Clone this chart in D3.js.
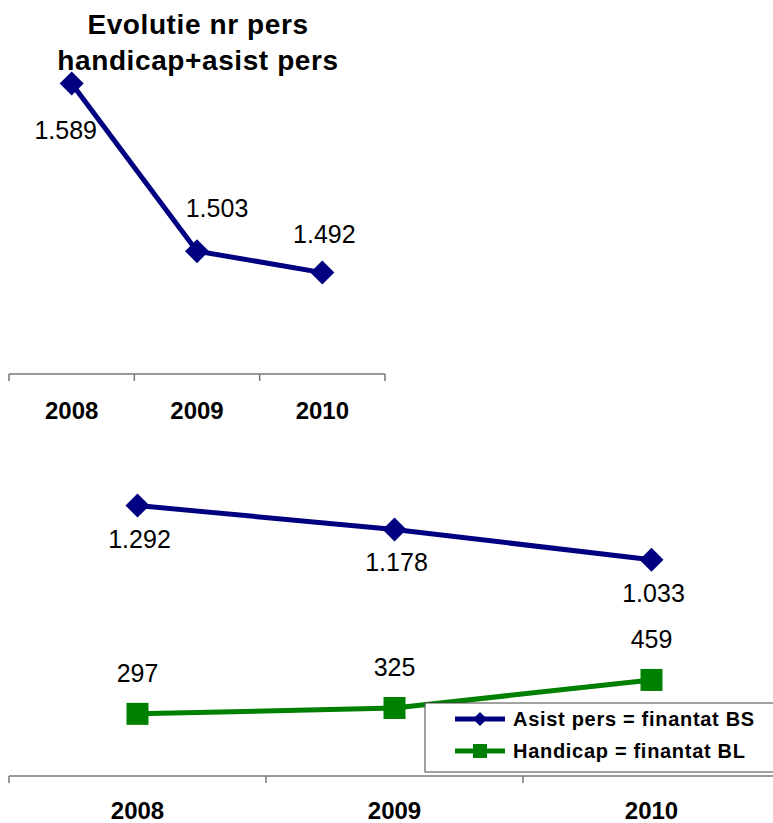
<!DOCTYPE html>
<html>
<head>
<meta charset="utf-8">
<script src="https://cdn.jsdelivr.net/npm/d3@7"></script>
<style>
  body { margin: 0; background: #fff; }
  text { font-family: Arial, "Liberation Sans", sans-serif; }
</style>
</head>
<body>
<div id="chart"></div>
<script>
// data
const years = ["2008", "2009", "2010"];
const totalPers = [1589, 1503, 1492];
const asistPers = [1292, 1178, 1033];
const handicap = [297, 325, 459];
const seriesNames = ["Asist pers = finantat BS", "Handicap = finantat BL"];
const titleLines = ["Evolutie nr pers", "handicap+asist pers"];

const fmt = v => d3.format(",")(v).replace(/,/g, ".");

const svg = d3.select("#chart").append("svg")
    .attr("width", 773).attr("height", 823);

const navy = "#000080", green = "#008000";

// draws a band axis with ticks at the band edges
function bandAxis(x, y0, labelY) {
    const g = svg.append("g");
    const [r0, r1] = x.range();
    g.append("line").attr("x1", r0).attr("x2", r1)
        .attr("y1", y0).attr("y2", y0)
        .attr("stroke", "#777").attr("stroke-width", 1.5);
    const edges = x.domain().map(d => x(d)).concat([r1]);
    g.selectAll(".tk").data(edges).enter().append("line")
        .attr("x1", d => d).attr("x2", d => d)
        .attr("y1", y0).attr("y2", y0 + 7)
        .attr("stroke", "#777").attr("stroke-width", 1.5);
    g.selectAll(".lb").data(x.domain()).enter().append("text")
        .attr("x", d => x(d) + x.bandwidth() / 2)
        .attr("y", labelY)
        .attr("text-anchor", "middle")
        .style("font-size", "24px").style("font-weight", "bold")
        .text(d => d);
}

function diamond(g, cx, cy, r, color) {
    g.append("path")
        .attr("d", `M${cx},${cy - r}L${cx + r},${cy}L${cx},${cy + r}L${cx - r},${cy}Z`)
        .attr("fill", color);
}

// ---- top chart ----
const x1 = d3.scaleBand().domain(years).range([9, 385]);
const y1 = d3.scaleLinear().domain([1440, 1600]).range([374, 62]);

svg.selectAll(".title").data(titleLines).enter().append("text")
    .attr("x", 198).attr("y", (d, i) => 34 + i * 36)
    .attr("text-anchor", "middle")
    .style("font-size", "28px").style("font-weight", "bold")
    .style("letter-spacing", "0.6px")
    .text(d => d);

bandAxis(x1, 374, 419);

const topG = svg.append("g");
const cx1 = d => x1(d) + x1.bandwidth() / 2;
topG.append("path")
    .datum(years)
    .attr("fill", "none").attr("stroke", navy).attr("stroke-width", 5)
    .attr("d", d3.line().x(d => cx1(d)).y((d, i) => y1(totalPers[i])));
years.forEach((d, i) => diamond(topG, cx1(d), y1(totalPers[i]), 12, navy));

const topLabelOff = [[-6, 56], [20, -34], [2, -30]];
topG.selectAll(".val").data(years).enter().append("text")
    .attr("x", (d, i) => cx1(d) + topLabelOff[i][0])
    .attr("y", (d, i) => y1(totalPers[i]) + topLabelOff[i][1])
    .attr("text-anchor", "middle")
    .style("font-size", "25px")
    .text((d, i) => fmt(totalPers[i]));

// ---- bottom chart ----
const x2 = d3.scaleBand().domain(years).range([9, 780]);
const y2 = d3.scaleLinear().domain([0, 1400]).range([776, 483]);
const cx2 = d => x2(d) + x2.bandwidth() / 2;

bandAxis(x2, 776, 819);

const bot = svg.append("g");
bot.append("path").datum(years)
    .attr("fill", "none").attr("stroke", navy).attr("stroke-width", 5)
    .attr("d", d3.line().x(d => cx2(d)).y((d, i) => y2(asistPers[i])));
years.forEach((d, i) => diamond(bot, cx2(d), y2(asistPers[i]), 12, navy));

bot.append("path").datum(years)
    .attr("fill", "none").attr("stroke", green).attr("stroke-width", 5)
    .attr("d", d3.line().x(d => cx2(d)).y((d, i) => y2(handicap[i])));
bot.selectAll(".sq").data(years).enter().append("rect")
    .attr("x", d => cx2(d) - 11).attr("y", (d, i) => y2(handicap[i]) - 11)
    .attr("width", 22).attr("height", 22).attr("fill", green);

bot.selectAll(".va").data(years).enter().append("text")
    .attr("x", d => cx2(d) + 2)
    .attr("y", (d, i) => y2(asistPers[i]) + 42)
    .attr("text-anchor", "middle").style("font-size", "25px")
    .text((d, i) => fmt(asistPers[i]));
bot.selectAll(".vh").data(years).enter().append("text")
    .attr("x", d => cx2(d))
    .attr("y", (d, i) => y2(handicap[i]) - 32)
    .attr("text-anchor", "middle").style("font-size", "25px")
    .text((d, i) => fmt(handicap[i]));

// legend
const leg = svg.append("g").attr("transform", "translate(425,703)");
leg.append("rect").attr("width", 360).attr("height", 69)
    .attr("fill", "#fff").attr("stroke", "#444").attr("stroke-width", 1);
const legColors = [navy, green];
seriesNames.forEach((name, i) => {
    const yy = 16 + i * 32;
    leg.append("line").attr("x1", 30).attr("x2", 80).attr("y1", yy).attr("y2", yy)
        .attr("stroke", legColors[i]).attr("stroke-width", 5);
    if (i === 0) diamond(leg, 55, yy, 7, navy);
    else leg.append("rect").attr("x", 48).attr("y", yy - 7).attr("width", 14).attr("height", 14).attr("fill", green);
    leg.append("text").attr("x", 88).attr("y", yy + 7)
        .style("font-size", "20px").style("font-weight", "bold")
        .style("letter-spacing", "0.7px")
        .text(name);
});
</script>
</body>
</html>
